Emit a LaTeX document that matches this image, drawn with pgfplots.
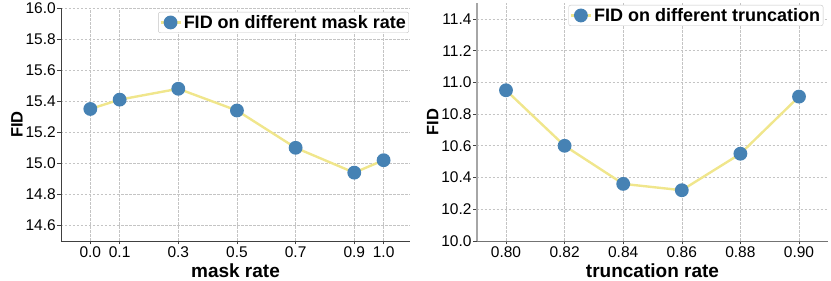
\documentclass[border=0pt]{standalone}
\usepackage{pgfplots}
\pgfplotsset{compat=1.18}
\usepackage{fontspec}
\setmainfont{Liberation Sans}
\definecolor{steel}{HTML}{4682B4}
\definecolor{khakiL}{HTML}{F0E68C}
\definecolor{gridc}{HTML}{C4C4C4}
\begin{document}
\begin{tikzpicture}
\useasboundingbox (0pt,0pt) rectangle (831pt,281pt);
\pgfplotsset{
 common/.style={
  scale only axis,
  anchor=south west,
  axis x line*=bottom, axis y line*=left,
  tick align=outside, major tick length=3.5pt,
  tick style={color=black!75, line width=0.6pt},
  grid=major,
  major grid style={gridc, line width=0.6pt, dash pattern=on 2.5pt off 1.5pt},
  ticklabel style={font=\fontsize{15.5}{17}\selectfont, inner sep=1.5pt},
  /pgf/number format/assume math mode=true,
  /pgf/number format/fixed, /pgf/number format/fixed zerofill,
  /pgf/number format/precision=1,
  xlabel style={font=\fontsize{19}{21}\selectfont\bfseries, yshift=-2pt},
  ylabel style={font=\fontsize{16.5}{18}\selectfont\bfseries, yshift=-2pt},
  legend style={font=\fontsize{18}{20}\selectfont\bfseries, draw=gridc, rounded corners=2pt, fill=white, inner sep=1pt, anchor=north east},
  legend cell align=left,
  legend image code/.code={\draw[khakiL, line width=2.4pt] (0pt,0pt)--(20pt,0pt); \fill[steel] (10pt,0pt) circle (5.7pt);},
 }
}
\begin{axis}[common,
  at={(61pt,40pt)}, width=349pt, height=233pt,
  xmin=-0.1, xmax=1.09, ymin=14.5, ymax=16.0,
  xtick={0.0,0.1,0.3,0.5,0.7,0.9,1.0},
  ytick={14.6,14.8,15.0,15.2,15.4,15.6,15.8,16.0},
  x axis line style={black!75, line width=0.8pt},
  y axis line style={black!75, line width=0.8pt},
  xlabel={mask rate}, ylabel={FID},
  legend style={at={(1,1)}, xshift=-1pt, yshift=-4pt},
]
\addplot[khakiL, line width=2.4pt, mark=*, mark size=5.7pt, mark options={fill=steel, draw=steel}] coordinates {
(0.0,15.35) (0.1,15.41) (0.3,15.48) (0.5,15.34) (0.7,15.10) (0.9,14.94) (1.0,15.02)};
\addlegendentry{FID on different mask rate}
\end{axis}
\begin{axis}[common,
  at={(476.7pt,40pt)}, width=351.6pt, height=238pt,
  xmin=0.79, xmax=0.91, ymin=10.0, ymax=11.5,
  xtick={0.80,0.82,0.84,0.86,0.88,0.90},
  ytick={10.0,10.2,10.4,10.6,10.8,11.0,11.2,11.4},
  xticklabel style={/pgf/number format/precision=2},
  x axis line style={black!55, line width=0.8pt},
  y axis line style={black!35, line width=2pt},
  xlabel={truncation rate}, ylabel={FID},
  legend style={at={(1,1)}, xshift=-5pt, yshift=-2pt},
]
\addplot[khakiL, line width=2.4pt, mark=*, mark size=5.7pt, mark options={fill=steel, draw=steel}] coordinates {
(0.80,10.95) (0.82,10.60) (0.84,10.36) (0.86,10.32) (0.88,10.55) (0.90,10.91)};
\addlegendentry{FID on different truncation}
\end{axis}
\end{tikzpicture}
\end{document}
